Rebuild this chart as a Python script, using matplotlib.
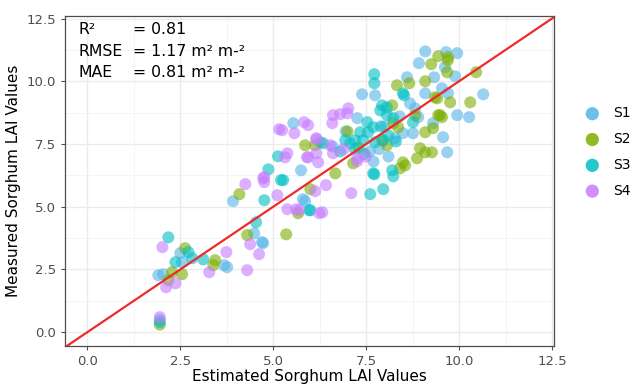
import matplotlib.pyplot as plt
from matplotlib.ticker import MultipleLocator

s1_est = [9.09, 9.65, 9.95, 8.92, 9.62, 9.89, 9.33, 8.6, 7.74, 7.39, 9.09, 9.54, 9.7, 8.82, 8.68,
          10.65, 9.95, 10.27, 8.9, 9.3, 9.57, 9.68, 8.76, 8.49, 8.28, 7.26, 5.54, 6.26, 5.75, 5.8,
          5.86, 3.92, 4.49, 4.7, 4.73, 3.76, 3.68, 2.55, 2.5, 1.91, 2.04, 1.95, 7.6, 7.85, 8.0,
          7.7, 8.4, 6.95, 8.1, 6.6]
s1_mea = [11.19, 11.16, 11.12, 10.72, 10.56, 10.2, 10.16, 10.16, 9.44, 9.48, 9.52, 9.72, 9.52, 8.92, 9.12,
          9.48, 8.65, 8.57, 8.57, 8.33, 7.77, 7.17, 7.93, 7.93, 7.73, 8.53, 8.33, 7.57, 6.45, 5.3,
          5.22, 5.22, 3.94, 3.59, 3.55, 2.59, 2.67, 2.79, 3.15, 2.27, 2.31, 0.5, 7.2, 7.3, 8.2,
          6.8, 8.6, 8.0, 7.0, 7.4]

s2_est = [9.44, 9.7, 9.7, 9.25, 9.68, 10.46, 9.09, 8.33, 8.66, 9.35, 9.76, 10.3, 9.41, 9.44, 9.54,
          8.2, 9.49, 8.82, 9.3, 9.09, 8.23, 8.36, 8.95, 9.09, 9.27, 8.87, 8.49, 8.41, 8.06, 7.93,
          5.86, 6.13, 7.15, 6.67, 8.55, 6.0, 5.67, 5.35, 4.09, 4.3, 2.63, 3.44, 3.39, 2.28, 2.55,
          2.18, 1.95, 7.3, 7.0]
s2_mea = [11.0, 10.96, 10.84, 10.68, 10.36, 10.36, 10.0, 9.84, 9.92, 9.36, 9.16, 9.16, 9.32, 8.65, 8.57,
          9.04, 8.65, 8.65, 8.13, 7.97, 8.33, 8.17, 7.33, 7.17, 7.17, 6.93, 6.77, 6.53, 7.45, 7.65,
          7.45, 7.45, 6.73, 6.33, 6.65, 5.7, 4.74, 3.9, 5.5, 3.87, 3.35, 2.87, 2.67, 2.39, 2.31,
          2.07, 0.3, 7.35, 8.0]

s3_est = [7.72, 7.72, 8.49, 8.52, 7.88, 8.06, 7.93, 8.06, 7.53, 8.23, 8.76, 7.69, 7.34, 7.55, 6.94,
          7.07, 7.2, 7.42, 7.74, 7.96, 8.09, 6.34, 7.69, 8.2, 8.23, 7.72, 7.61, 7.96, 5.13, 4.87,
          5.21, 5.27, 5.97, 6.0, 4.76, 4.54, 2.18, 2.72, 2.37, 2.82, 3.12, 1.95, 7.2, 7.45, 6.8,
          7.9, 8.3]
s3_mea = [10.28, 9.92, 9.52, 9.44, 8.84, 8.65, 9.04, 8.96, 8.37, 8.53, 8.37, 8.17, 7.97, 7.97, 7.65,
          7.53, 7.65, 7.65, 7.57, 7.65, 7.85, 7.53, 6.33, 6.45, 6.21, 6.29, 5.5, 5.7, 7.01, 6.49,
          6.06, 6.06, 4.86, 4.86, 5.26, 4.38, 3.78, 3.19, 2.79, 2.95, 2.9, 0.4, 7.3, 7.1, 7.2,
          8.2, 7.6]

s4_est = [6.61, 6.8, 7.02, 6.99, 6.59, 5.83, 5.94, 5.57, 5.24, 5.16, 6.16, 6.16, 6.53, 6.16, 6.61,
          5.38, 5.32, 5.91, 5.94, 6.21, 7.26, 7.26, 6.42, 6.13, 7.1, 5.38, 5.62, 6.32, 6.24, 5.11,
          4.25, 4.73, 4.76, 4.76, 4.38, 4.62, 4.3, 3.74, 3.28, 2.02, 2.12, 2.37, 1.95, 5.7, 6.9,
          7.5]
s4_mea = [8.65, 8.69, 8.92, 8.72, 8.33, 8.37, 8.25, 7.93, 8.05, 8.09, 7.69, 7.73, 7.45, 7.13, 7.13,
          7.13, 6.97, 6.97, 6.97, 6.77, 6.81, 6.93, 5.86, 5.62, 5.54, 4.9, 4.9, 4.78, 4.74, 5.46,
          5.9, 6.13, 5.98, 6.18, 3.51, 3.11, 2.47, 3.19, 2.39, 3.39, 1.79, 1.95, 0.6, 4.86, 7.3,
          7.0]

series = ['S1', 'S2', 'S3', 'S4']
colors = ['#56B4E9', '#7CAE00', '#00BFC4', '#C77CFF']
estimated = [s1_est, s2_est, s3_est, s4_est]
measured = [s1_mea, s2_mea, s3_mea, s4_mea]

fig = plt.figure(figsize=(6.33, 3.85), dpi=100)
ax = fig.add_axes([0.1027, 0.1013, 0.7723, 0.8571])

for name, col, xs, ys in zip(series, colors, estimated, measured):
    ax.scatter(xs, ys, s=75, color=col, alpha=0.6, edgecolors='none', label=name, zorder=3)

# línea 1:1
ax.axline((0, 0), slope=1, color='#F02A2A', linewidth=1.6, zorder=4)

ax.set_xlim(-0.6, 12.55)
ax.set_ylim(-0.55, 12.6)
ax.xaxis.set_major_locator(MultipleLocator(2.5))
ax.yaxis.set_major_locator(MultipleLocator(2.5))
ax.xaxis.set_minor_locator(MultipleLocator(1.25))
ax.yaxis.set_minor_locator(MultipleLocator(1.25))
ax.xaxis.set_major_formatter(lambda v, p: f'{v:.1f}')
ax.yaxis.set_major_formatter(lambda v, p: f'{v:.1f}')
ax.grid(which='major', color='#EBEBEB', linewidth=1.0, zorder=0)
ax.grid(which='minor', color='#F2F2F2', linewidth=0.6, zorder=0)
ax.set_axisbelow(True)
ax.tick_params(which='major', colors='#4D4D4D', labelsize=9.5, length=3, width=0.8)
ax.tick_params(which='minor', length=0)
for sp in ax.spines.values():
    sp.set_color('#4D4D4D')
    sp.set_linewidth(0.9)

ax.set_xlabel('Estimated Sorghum LAI Values', fontsize=11, color='black', labelpad=1)
ax.set_ylabel('Measured Sorghum LAI Values', fontsize=11, color='black', labelpad=4)

# estadísticas
labels = ['R²', 'RMSE', 'MAE']
values = ['= 0.81', '= 1.17 m² m-²', '= 0.81 m² m-²']
y_pos = [12.05, 11.2, 10.36]
for lab, val, y in zip(labels, values, y_pos):
    ax.text(-0.25, y, lab, fontsize=11.3, va='center', ha='left', zorder=5)
    ax.text(1.22, y, val, fontsize=11.3, va='center', ha='left', zorder=5)

leg = fig.legend(loc='center left', bbox_to_anchor=(0.894, 0.605), frameon=False,
                 fontsize=10, handletextpad=0.5, labelspacing=0.85, markerscale=1.1)
for h in leg.legend_handles:
    h.set_alpha(0.85)

plt.savefig('out.png', dpi=100)
